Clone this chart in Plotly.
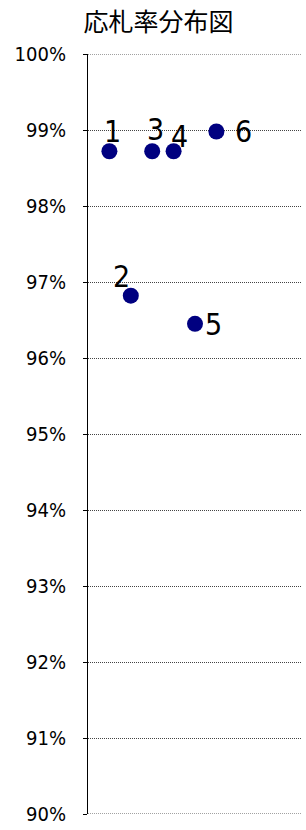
import plotly.graph_objects as go

labels = ["1", "2", "3", "4", "5", "6"]
x_pos = [1, 2, 3, 4, 5, 6]
rates = [0.9872, 0.9682, 0.9872, 0.9872, 0.9645, 0.9898]
label_dx = [3, -9, 3, 6, 18, 27]
label_dy = [20, 19, 22, 15, -1, 0]

tick_vals = [0.90 + i * 0.01 for i in range(11)]
tick_text = [f"{90 + i}%" for i in range(11)]

NARROW = "DejaVu Sans Condensed, DejaVu Sans, sans-serif"
GRID = "#444444"

fig = go.Figure()
fig.add_trace(go.Scatter(
    x=x_pos, y=rates, mode="markers",
    marker=dict(color="#000080", size=16),
    hoverinfo="skip", showlegend=False,
))
for lab, xv, yv, dx, dy in zip(labels, x_pos, rates, label_dx, label_dy):
    fig.add_annotation(x=xv, y=yv, text=lab, showarrow=False,
                       xshift=dx, yshift=dy,
                       font=dict(size=30, color="black", family=NARROW))

# make sure the gridlines at the two ends of the range are drawn
for yv in (tick_vals[0], tick_vals[-1]):
    fig.add_hline(y=yv, line=dict(color=GRID, width=1, dash="1px,1px"), layer="below")

fig.update_layout(
    width=306, height=830,
    margin=dict(l=88, r=4, t=54, b=14),
    paper_bgcolor="white", plot_bgcolor="white",
    title=dict(text="応札率分布図", x=0.518, xanchor="center", y=0.9735, yanchor="middle",
               font=dict(size=25, color="black", family="Noto Sans CJK JP")),
    xaxis=dict(range=[0, 10], showgrid=False, showticklabels=False, zeroline=False,
               showline=False, ticks=""),
    yaxis=dict(range=[0.90, 1.00], tickvals=tick_vals, ticktext=tick_text,
               showgrid=True, gridcolor=GRID, griddash="1px,1px", gridwidth=1,
               showline=True, linecolor="black", linewidth=1, zeroline=False,
               ticks="outside", ticklen=4, tickcolor="black",
               ticklabelstandoff=13,
               tickfont=dict(size=20, color="black", family=NARROW)),
)
fig.write_html("out.html",
               config={"displayModeBar": False},
               post_script="document.body.style.margin='0px';document.body.style.padding='0px';")
